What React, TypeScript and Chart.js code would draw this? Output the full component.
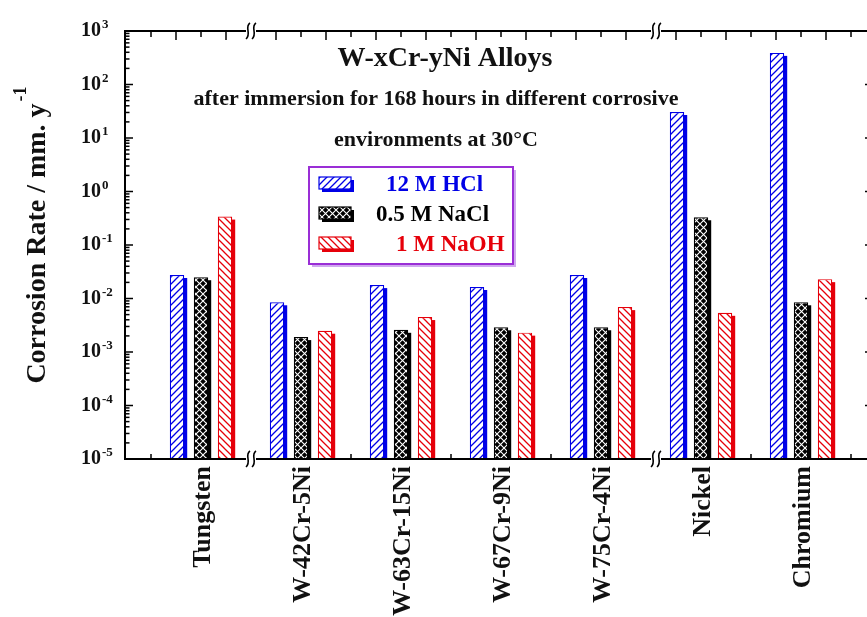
import React, { useEffect, useRef } from 'react';
import { Chart, registerables } from 'chart.js';

Chart.register(...registerables);

// ---------- data ----------
const categories = ['Tungsten', 'W-42Cr-5Ni', 'W-63Cr-15Ni', 'W-67Cr-9Ni', 'W-75Cr-4Ni', 'Nickel', 'Chromium'];
const seriesLabels = ['12 M HCl', '0.5 M NaCl', '1 M NaOH'];
const hclRates = [0.0275, 0.0085, 0.0178, 0.0164, 0.0275, 30.6, 390];
const naclRates = [0.025, 0.0019, 0.0026, 0.0029, 0.0029, 0.33, 0.0085];
const naohRates = [0.34, 0.0025, 0.0045, 0.0023, 0.0069, 0.0054, 0.023];
const yDecades = [-5, -4, -3, -2, -1, 0, 1, 2, 3];
const axisBreaks = [0.5, 4.55];
const titleLines = ['W-xCr-yNi Alloys', 'after immersion for 168 hours in different corrosive', 'environments at 30°C'];
const yTitleMain = 'Corrosion Rate / mm. y';
const yTitleSup = '-1';

const BLUE = '#0000e6';
const BLACK = '#000000';
const RED = '#e6000a';
const PURPLE = '#9a2ed6';
const FONT = '"Liberation Serif", "DejaVu Serif", serif';

function makePattern(kind: string, color: string): CanvasPattern | string {
  const s = 7;
  const c = document.createElement('canvas');
  c.width = s;
  c.height = s;
  const g = c.getContext('2d');
  if (!g) return color;
  if (kind === 'cross') {
    g.fillStyle = color;
    g.fillRect(0, 0, s, s);
    g.strokeStyle = '#ffffff';
    g.lineWidth = 1.1;
    g.beginPath();
    g.moveTo(0, 0); g.lineTo(s, s);
    g.moveTo(s, 0); g.lineTo(0, s);
    g.stroke();
  } else {
    g.fillStyle = '#ffffff';
    g.fillRect(0, 0, s, s);
    g.strokeStyle = color;
    g.lineWidth = 1.3;
    g.beginPath();
    if (kind === 'fwd') {
      g.moveTo(0, s); g.lineTo(s, 0);
      g.moveTo(-1, 1); g.lineTo(1, -1);
      g.moveTo(s - 1, s + 1); g.lineTo(s + 1, s - 1);
    } else {
      g.moveTo(0, 0); g.lineTo(s, s);
      g.moveTo(-1, s - 1); g.lineTo(1, s + 1);
      g.moveTo(s - 1, -1); g.lineTo(s + 1, 1);
    }
    g.stroke();
  }
  const p = g.createPattern(c, 'repeat');
  return p || color;
}

const decorPlugin = {
  id: 'decor',
  beforeDatasetDraw(chart: any, args: any) {
    const ds = chart.data.datasets[args.index];
    const ctx = chart.ctx;
    const a = chart.chartArea;
    ctx.save();
    ctx.beginPath();
    ctx.rect(a.left, a.top, a.right - a.left, a.bottom - a.top);
    ctx.clip();
    ctx.fillStyle = ds.borderColor;
    args.meta.data.forEach((el: any) => {
      const p = el.getProps(['x', 'y', 'base', 'width'], true);
      ctx.fillRect(p.x - p.width / 2 + 3, p.y + 3, p.width, p.base - p.y);
    });
    ctx.restore();
  },
  afterDraw(chart: any) {
    const ctx = chart.ctx;
    const a = chart.chartArea;
    const xs = chart.scales.x;
    const ys = chart.scales.y;
    const L = a.left, R = a.right, T = a.top, B = a.bottom;
    const line = (x1: number, y1: number, x2: number, y2: number) => {
      ctx.beginPath();
      ctx.moveTo(x1, y1);
      ctx.lineTo(x2, y2);
      ctx.stroke();
    };
    ctx.save();
    ctx.strokeStyle = '#000';
    ctx.lineWidth = 2;
    ctx.beginPath();
    ctx.moveTo(L, T); ctx.lineTo(R, T); ctx.lineTo(R, B); ctx.lineTo(L, B); ctx.closePath();
    ctx.stroke();

    // y ticks
    ctx.lineWidth = 1.5;
    yDecades.forEach((e) => {
      const py = ys.getPixelForValue(Math.pow(10, e));
      line(L, py, L + 8, py);
      line(R, py, R - 8, py);
      if (e < 3) {
        for (let m = 2; m <= 9; m++) {
          const pm = ys.getPixelForValue(m * Math.pow(10, e));
          line(L, pm, L + 4.5, pm);
          line(R, pm, R - 4.5, pm);
        }
      }
    });

    // top ticks
    const nearBreak = (v: number) => axisBreaks.some((b) => Math.abs(v - b) < 0.15);
    for (let q = -2; q <= 26; q++) {
      const v = q * 0.25;
      if (nearBreak(v)) continue;
      const px = xs.getPixelForValue(v);
      const len = Math.abs(q) % 2 === 1 ? 9 : 6;
      line(px, T, px, T + len);
    }
    // bottom ticks
    for (let k = -1; k <= 6; k++) {
      const v = k + 0.5;
      if (nearBreak(v)) continue;
      const px = xs.getPixelForValue(v);
      line(px, B, px, B - 5);
    }
    // axis breaks
    axisBreaks.forEach((bx) => {
      const px = xs.getPixelForValue(bx);
      [T, B].forEach((yy) => {
        ctx.fillStyle = '#fff';
        ctx.fillRect(px - 5, yy - 2, 10, 4);
        ctx.lineWidth = 1.6;
        [-3, 3].forEach((dx) => {
          const cx = px + dx;
          ctx.beginPath();
          ctx.moveTo(cx + 2, yy - 8);
          ctx.bezierCurveTo(cx - 4, yy - 4, cx + 4, yy + 3, cx - 2, yy + 8);
          ctx.stroke();
        });
      });
    });

    // y tick labels
    ctx.fillStyle = '#111';
    yDecades.forEach((e) => {
      const py = ys.getPixelForValue(Math.pow(10, e));
      ctx.font = `bold 20px ${FONT}`;
      ctx.textAlign = 'right';
      ctx.textBaseline = 'alphabetic';
      ctx.fillText('10', 101, py + 5);
      ctx.font = `bold 13px ${FONT}`;
      ctx.textAlign = 'left';
      ctx.fillText(String(e), 102, py - 3);
    });

    // y title
    ctx.save();
    ctx.translate(45, 235);
    ctx.rotate(-Math.PI / 2);
    ctx.font = `bold 28px ${FONT}`;
    const w1 = ctx.measureText(yTitleMain).width;
    ctx.font = `bold 18px ${FONT}`;
    const w2 = ctx.measureText(yTitleSup).width;
    const start = -(w1 + w2 + 2) / 2;
    ctx.textAlign = 'left';
    ctx.textBaseline = 'alphabetic';
    ctx.font = `bold 28px ${FONT}`;
    ctx.fillText(yTitleMain, start, 0);
    ctx.font = `bold 18px ${FONT}`;
    ctx.fillText(yTitleSup, start + w1 + 2, -19);
    ctx.restore();

    // x labels
    ctx.font = `bold 26px ${FONT}`;
    chart.data.labels.forEach((lab: string, i: number) => {
      const px = xs.getPixelForValue(i);
      ctx.save();
      ctx.translate(px + 9, 466);
      ctx.rotate(-Math.PI / 2);
      ctx.textAlign = 'right';
      ctx.textBaseline = 'alphabetic';
      ctx.fillText(lab, 0, 0);
      ctx.restore();
    });

    // titles
    ctx.textAlign = 'center';
    ctx.textBaseline = 'middle';
    ctx.font = `bold 28px ${FONT}`;
    ctx.fillText(titleLines[0], 445, 59);
    ctx.font = `bold 22px ${FONT}`;
    ctx.fillText(titleLines[1], 436, 99);
    ctx.fillText(titleLines[2], 436, 140);

    // legend box
    ctx.fillStyle = '#cfa8ee';
    ctx.fillRect(312, 170, 204, 97);
    ctx.fillStyle = '#fff';
    ctx.fillRect(309, 167, 204, 97);
    ctx.strokeStyle = PURPLE;
    ctx.lineWidth = 2;
    ctx.strokeRect(309, 167, 204, 97);
    const textX = [386, 376, 396];
    chart.data.datasets.forEach((ds: any, i: number) => {
      const cy = 184.5 + 30 * i;
      ctx.fillStyle = ds.borderColor;
      ctx.fillRect(322, cy - 4.5, 32, 12);
      ctx.fillStyle = ds.backgroundColor;
      ctx.fillRect(319, cy - 7.5, 32, 12);
      ctx.strokeStyle = ds.borderColor;
      ctx.lineWidth = 1.2;
      ctx.strokeRect(319, cy - 7.5, 32, 12);
      ctx.fillStyle = ds.borderColor;
      ctx.font = `bold 23px ${FONT}`;
      ctx.textAlign = 'left';
      ctx.textBaseline = 'middle';
      ctx.fillText(ds.label, textX[i], cy + 1);
    });
    ctx.restore();
  },
};

export default function App() {
  const ref = useRef<HTMLCanvasElement | null>(null);
  useEffect(() => {
    const canvas = ref.current;
    if (!canvas) return;
    const mk = (vals: number[]) => vals.map((v, i) => ({ x: i, y: v }));
    const chart = new Chart(canvas, {
      type: 'bar',
      data: {
        labels: categories,
        datasets: [
          { label: seriesLabels[0], data: mk(hclRates) as any, backgroundColor: makePattern('fwd', BLUE) as any, borderColor: BLUE, borderWidth: 1.2 },
          { label: seriesLabels[1], data: mk(naclRates) as any, backgroundColor: makePattern('cross', BLACK) as any, borderColor: BLACK, borderWidth: 1.2 },
          { label: seriesLabels[2], data: mk(naohRates) as any, backgroundColor: makePattern('back', RED) as any, borderColor: RED, borderWidth: 1.2 },
        ],
      },
      options: {
        responsive: false,
        animation: false,
        devicePixelRatio: 1,
        layout: { padding: { left: 125, top: 31, right: 7, bottom: 158 } },
        datasets: { bar: { categoryPercentage: 0.72, barPercentage: 0.6 } } as any,
        scales: {
          x: {
            type: 'linear',
            min: -0.76,
            max: 6.72,
            display: false,
            offset: false,
            afterBuildTicks: (scale: any) => {
              scale.ticks = categories.map((_, i) => ({ value: i }));
            },
          } as any,
          y: { type: 'logarithmic', min: 1e-5, max: 1e3, display: false },
        },
        plugins: { legend: { display: false }, tooltip: { enabled: false } },
      },
      plugins: [decorPlugin as any],
    });
    return () => chart.destroy();
  }, []);
  return (
    <div style={{ position: 'fixed', left: 0, top: 0, width: 867, height: 617, overflow: 'hidden', background: '#fff' }}>
      <canvas ref={ref} width={880} height={617} style={{ display: 'block', width: 880, height: 617 }} />
    </div>
  );
}
